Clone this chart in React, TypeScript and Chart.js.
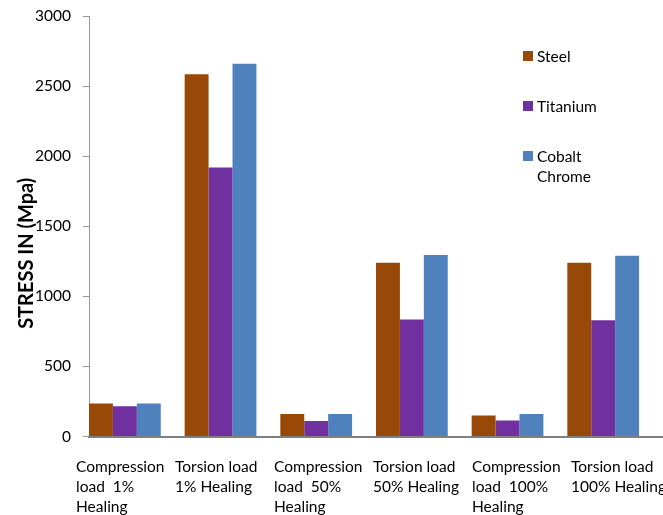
import { useEffect, useRef } from "react";
import { Chart, registerables } from "chart.js";

Chart.register(...registerables);

const categories = [
  "Compression load 1% Healing",
  "Torsion load 1% Healing",
  "Compression load 50% Healing",
  "Torsion load 50% Healing",
  "Compression load 100% Healing",
  "Torsion load 100% Healing",
];
const xTickLines = [
  ["Compression", "load  1%", "Healing"],
  ["Torsion load", "1% Healing"],
  ["Compression", "load  50%", "Healing"],
  ["Torsion load", "50% Healing"],
  ["Compression", "load  100%", "Healing"],
  ["Torsion load", "100% Healing"],
];
const seriesNames = ["Steel", "Titanium", "Cobalt Chrome"];
const steel = [235, 2585, 160, 1240, 150, 1240];
const titanium = [215, 1920, 110, 835, 115, 830];
const cobaltChrome = [235, 2660, 160, 1295, 160, 1290];
const seriesColors = ["#984807", "#7030A0", "#4F81BD"];
const yTicks = [0, 500, 1000, 1500, 2000, 2500, 3000];
const yTitle = "STRESS IN (Mpa)";

export default function App() {
  const ref = useRef<HTMLCanvasElement>(null);

  useEffect(() => {
    document.body.style.margin = "0";
    const values = [steel, titanium, cobaltChrome];
    const titlePlugin = {
      id: "yTitleText",
      afterDraw(chart: any) {
        const { ctx, chartArea } = chart;
        ctx.save();
        ctx.translate(26.5, (chartArea.top + chartArea.bottom) / 2 + 27);
        ctx.rotate(-Math.PI / 2);
        ctx.font = "bold 20px Lato";
        ctx.fillStyle = "#000";
        ctx.textAlign = "center";
        ctx.textBaseline = "middle";
        ctx.fillText(yTitle, 0, 0);
        ctx.restore();
      },
    };
    const chart = new Chart(ref.current as HTMLCanvasElement, {
      type: "bar",
      data: {
        datasets: seriesNames.map((name, s) => ({
          label: name,
          data: values[s].map((v, i) => ({ x: i, y: v })),
          backgroundColor: seriesColors[s],
          borderWidth: 0,
          categoryPercentage: 0.75,
          barPercentage: 1,
          xAxisID: "x",
          yAxisID: "y",
        })),
      },
      options: {
        animation: false,
        responsive: true,
        maintainAspectRatio: false,
        layout: { padding: { top: 16, right: 0, left: 0, bottom: 0 } },
        plugins: { legend: { display: false }, tooltip: { enabled: false } },
        scales: {
          x: {
            type: "linear",
            position: "bottom",
            offset: false,
            min: -0.375,
            max: 5.625,
            afterBuildTicks: (s: any) => {
              s.ticks = categories.map((_, i) => ({ value: i }));
            },
            ticks: { display: false },
            grid: { display: false, drawTicks: false },
            border: { display: true, color: "#7f7f7f", width: 2 },
            afterFit: (s: any) => {
              s.height = 0;
              s.paddingLeft = 0;
              s.paddingRight = 0;
            },
          },
          xl: {
            type: "linear",
            position: "bottom",
            weight: 1,
            offset: false,
            min: 0.1313,
            max: 5.929,
            afterBuildTicks: (s: any) => {
              s.ticks = categories.map((_, i) => ({ value: i }));
            },
            ticks: {
              autoSkip: false,
              align: "start",
              padding: 20,
              maxRotation: 0,
              minRotation: 0,
              color: "#000",
              font: { family: "Lato", size: 15.5, lineHeight: "20px" },
              callback: (_v: any, i: number) => xTickLines[i],
            },
            grid: { display: false, drawTicks: false },
            border: { display: false },
            afterFit: (s: any) => {
              s.height = 78.5;
              s.paddingLeft = 0;
              s.paddingRight = 0;
            },
          },
          y: {
            type: "linear",
            position: "left",
            min: 0,
            max: 3000,
            afterBuildTicks: (s: any) => {
              s.ticks = yTicks.map((v) => ({ value: v }));
            },
            ticks: {
              color: "#000",
              padding: 12,
              font: { family: "Lato", size: 15.5 },
              callback: (v: any) => String(v),
            },
            grid: {
              display: true,
              drawOnChartArea: false,
              drawTicks: true,
              tickLength: 6,
              color: "#999",
              lineWidth: 1,
            },
            border: { display: true, color: "#999", width: 1 },
            afterFit: (s: any) => {
              s.width = 89;
              s.paddingTop = 0;
              s.paddingBottom = 0;
            },
          },
        } as any,
      },
      plugins: [titlePlugin],
    });
    return () => chart.destroy();
  }, []);

  return (
    <div style={{ position: "absolute", left: 0, top: 0, width: 663, height: 515, background: "#fff" }}>
      <canvas ref={ref} />
      {seriesNames.map((name, i) => (
        <div
          key={name}
          style={{
            position: "absolute",
            left: 523,
            top: 46 + 50 * i,
            display: "flex",
            alignItems: "flex-start",
            fontFamily: "Lato",
            fontSize: 15.5,
            lineHeight: "20px",
            color: "#000",
          }}
        >
          <span
            style={{
              width: 10,
              height: 10,
              background: seriesColors[i],
              marginTop: 5,
              marginRight: 4,
              flex: "none",
            }}
          />
          <span style={{ width: 70 }}>{name}</span>
        </div>
      ))}
    </div>
  );
}
